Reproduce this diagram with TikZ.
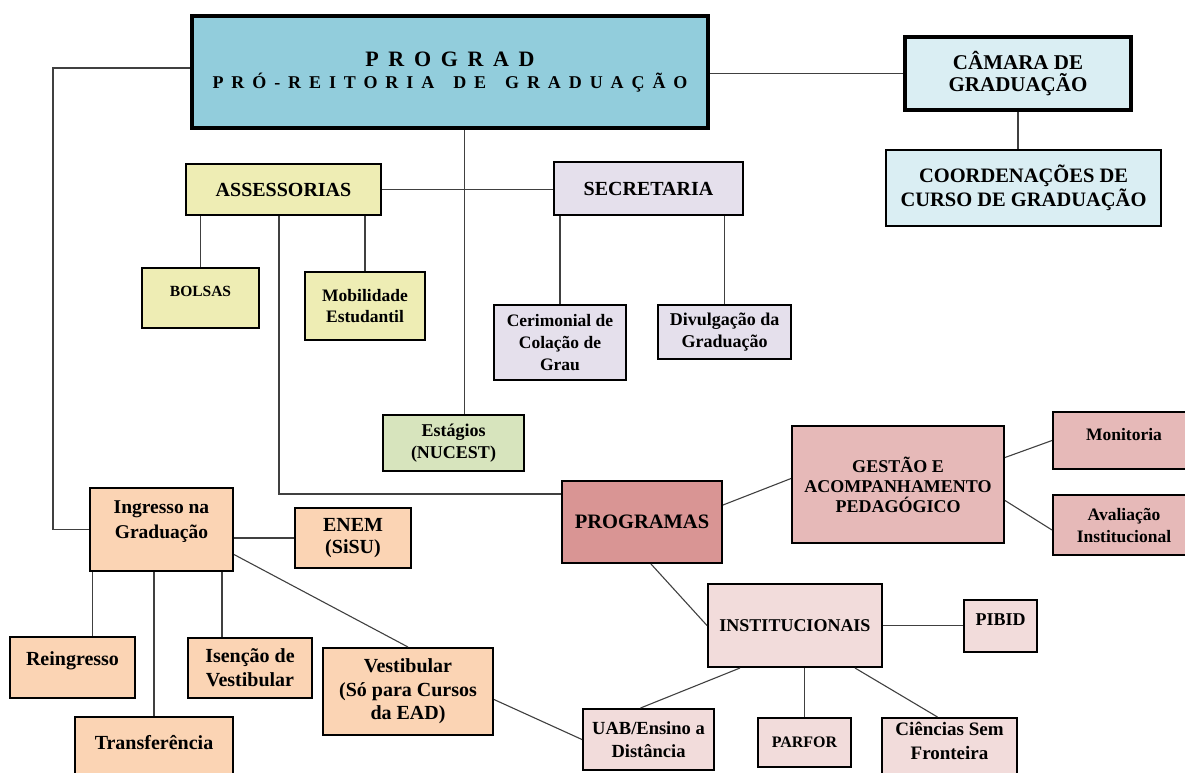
\documentclass[tikz,border=0pt]{standalone}
\usepackage{fontspec}
\setmainfont{Liberation Serif}
\newfontfamily\spaced[LetterSpace=44]{Liberation Serif}
\usepackage{tikz}
\usetikzlibrary{shapes,arrows}
\definecolor{cprograd}{RGB}{146,205,220}
\definecolor{ccamara}{RGB}{218,238,243}
\definecolor{cassess}{RGB}{238,237,180}
\definecolor{csecret}{RGB}{229,224,236}
\definecolor{cestag}{RGB}{215,228,189}
\definecolor{cprog}{RGB}{217,149,148}
\definecolor{cgestao}{RGB}{230,185,184}
\definecolor{cinstit}{RGB}{242,220,219}
\definecolor{cingr}{RGB}{251,212,180}
\newcommand{\fsz}[2]{\fontsize{#1}{#2}\selectfont}
\newcommand{\wsp}{\ \hspace{6.5pt}}
\tikzstyle{box} = [draw=black, line width=2pt, inner sep=0pt, align=center, font=\bfseries\fsz{18}{22}]
\tikzstyle{head} = [box, line width=4pt]
\tikzstyle{assess} = [box, fill=cassess]
\tikzstyle{secret} = [box, fill=csecret, line width=1.4pt]
\tikzstyle{prog} = [box, fill=cgestao]
\tikzstyle{instit} = [box, fill=cinstit]
\tikzstyle{ingr} = [box, fill=cingr]
\tikzstyle{link} = [draw=black!75, line width=1.1pt]

\begin{document}
\begin{tikzpicture}[x=1pt,y=-1pt]
    \useasboundingbox (0,0) rectangle (1185,772);

    % topo
    \path (450,72) node (prograd) [head, fill=cprograd, minimum width=516, minimum height=112]
        {{\spaced\fsz{22}{24}PROGRAD}\\{\spaced\fsz{18}{24}PRÓ-REITORIA\wsp DE\wsp GRADUAÇÃO}};
    \path (1018,73.5) node (camara) [head, fill=ccamara, minimum width=226, minimum height=73, font=\bfseries\fsz{21}{22}] {CÂMARA DE\\GRADUAÇÃO};
    \path (1023.5,188) node (coord) [box, line width=2.5pt, fill=ccamara, minimum width=275, minimum height=76, font=\bfseries\fsz{20.5}{24}] {COORDENAÇÕES DE\\CURSO DE GRADUAÇÃO};

    % assessorias e secretaria
    \path (283.5,189.5) node (assess) [assess, minimum width=195, minimum height=51, font=\bfseries\fsz{20}{22}] {ASSESSORIAS};
    \path (200.5,298) node (bolsas) [assess, minimum width=117, minimum height=60, text depth=14pt, font=\bfseries\fsz{15.5}{18}] {BOLSAS};
    \path (365,306) node (mobil) [assess, minimum width=120, minimum height=68, font=\bfseries\fsz{17.5}{21}] {Mobilidade\\Estudantil};
    \path (648.5,188.5) node (secret) [secret, line width=1.8pt, minimum width=189, minimum height=53, font=\bfseries\fsz{20}{22}] {SECRETARIA};
    \path (560,342.5) node (cerim) [secret, minimum width=132, minimum height=75, font=\bfseries\fsz{17.5}{22}] {Cerimonial de\\Colação de\\Grau};
    \path (724.5,332) node (divulg) [secret, minimum width=133, minimum height=54] {Divulgação da\\Graduação};
    \path (453.5,443) node (estag) [box, line width=2.2pt, fill=cestag, minimum width=141, minimum height=56] {Estágios\\(NUCEST)};

    % programas
    \path (642,522) node (programas) [box, fill=cprog, minimum width=160, minimum height=82, font=\bfseries\fsz{20.5}{22}] {PROGRAMAS};
    \path (898,484.5) node (gestao) [prog, minimum width=212, minimum height=117, font=\bfseries\fsz{18}{20}] {GESTÃO E\\ACOMPANHAMENTO\\PEDAGÓGICO};
    \path (1124,440.5) node (monit) [prog, minimum width=142, minimum height=57, text depth=13pt, font=\bfseries\fsz{17.5}{20}] {Monitoria};
    \path (1124,525) node (aval) [prog, minimum width=142, minimum height=60, font=\bfseries\fsz{17.5}{22}] {Avaliação\\Institucional};
    \path (795,625.5) node (instit) [instit, minimum width=174, minimum height=83] {INSTITUCIONAIS};
    \path (1000.5,626) node (pibid) [instit, minimum width=73, minimum height=52, text depth=12pt] {PIBID};
    \path (648.5,739.5) node (uab) [instit, minimum width=131, minimum height=61, font=\bfseries\fsz{18.5}{23}] {UAB/Ensino a\\Distância};
    \path (804.5,742.5) node (parfor) [instit, minimum width=93, minimum height=49, font=\bfseries\fsz{16}{20}] {PARFOR};
    \path (949.5,748) node (cienc) [instit, minimum width=135, minimum height=60, text depth=14pt, font=\bfseries\fsz{19}{24}] {Ciências Sem\\Fronteira};

    % ingresso
    \path (161.5,529.5) node (ingresso) [ingr, minimum width=143, minimum height=83, text depth=20pt, font=\bfseries\fsz{19.5}{25}] {Ingresso na\\Graduação};
    \path (353,538) node (enem) [ingr, minimum width=116, minimum height=60, font=\bfseries\fsz{20}{22}] {ENEM\\(SiSU)};
    \path (72.5,667.5) node (reing) [ingr, minimum width=125, minimum height=61, text depth=18pt, font=\bfseries\fsz{20}{22}] {Reingresso};
    \path (250,668) node (isenc) [ingr, minimum width=124, minimum height=60, font=\bfseries\fsz{20}{24}] {Isenção de\\Vestibular};
    \path (154,747) node (transf) [ingr, minimum width=158, minimum height=60, text depth=10pt, font=\bfseries\fsz{20}{22}] {Transferência};
    \path (408,691.5) node (vestib) [ingr, minimum width=170, minimum height=87, font=\bfseries\fsz{20}{23.5}] {Vestibular\\(Só para Cursos\\da EAD)};

    \coordinate (trunk) at (53,68);

    % ligacoes
    \path [link] (prograd.west |- trunk) -- (trunk) |- (ingresso.west);
    \path [link] (camara.west -| prograd.east) -- (camara.west);
    \path [link] (camara.south) -- (camara.south |- coord.north);
    \path [link] ([xshift=11pt]estag.north) -- ([xshift=11pt]estag.north |- prograd.south);
    \path [link] (assess.east) -- (assess.east -| secret.west);
    \path [link] ([xshift=-4.5pt]assess.south) |- ([yshift=28pt]programas.west);

    \foreach \x in {bolsas,mobil}
    {
        \path [link] (\x.north) -- (\x.north |- assess.south);
    }
    \foreach \x in {cerim,divulg}
    {
        \path [link] (\x.north) -- (\x.north |- secret.south);
    }
    \foreach \x/\s in {reing/20,isenc/-28,transf/0}
    {
        \path [link] ([xshift=\s pt]\x.north) -- ([xshift=\s pt]\x.north |- ingresso.south);
    }

    \path [link] ([yshift=17pt]programas.east) -- ([yshift=6pt]gestao.west);
    \path [link] ([yshift=27pt]gestao.east) -- (monit.west);
    \path [link] ([yshift=-16pt]gestao.east) -- ([yshift=-5pt]aval.west);
    \path [link] ([xshift=9pt]programas.south) -- (instit.west);
    \path [link] (instit.east) -- (instit.east -| pibid.west);
    \path [link] ([xshift=-55pt]instit.south) -- ([xshift=-8pt]uab.north);
    \path [link] (parfor.north |- instit.south) -- (parfor.north);
    \path [link] ([xshift=60pt]instit.south) -- ([xshift=-12pt]cienc.north);

    \path [link] (enem.west -| ingresso.east) -- (enem.west);
    \path [link] ([yshift=-25pt]ingresso.east) -- (vestib.north);
    \path [link] ([yshift=-8pt]vestib.east) -- (uab.west);
\end{tikzpicture}
\end{document}
